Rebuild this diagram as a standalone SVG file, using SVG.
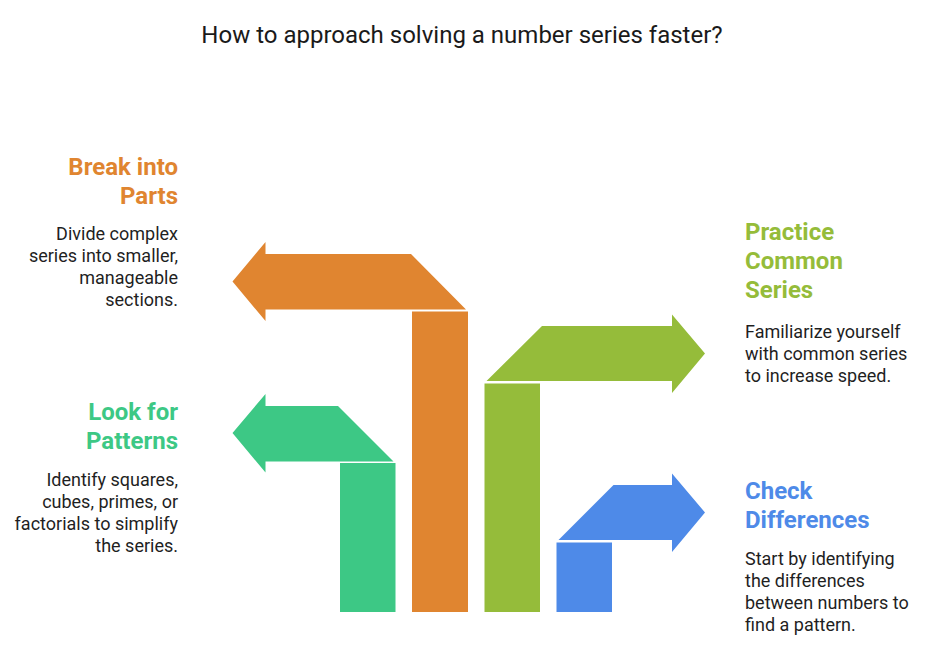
<svg xmlns="http://www.w3.org/2000/svg" width="928" height="658" viewBox="0 0 928 658">
<style>
text{font-family:Roboto,"Liberation Sans",sans-serif}
.title{font-size:24px;fill:#1a1a1a}
.h{font-size:24px;font-weight:700}
.b{font-size:18px;fill:#1f1f1f}
.e{text-anchor:end}
.orange{fill:#e08530}.green{fill:#3dc885}.lime{fill:#95bc3a}.blue{fill:#4e8ae8}
</style>
<rect width="928" height="658" fill="#fff"/>
<text class="title" x="462" y="43" text-anchor="middle">How to approach solving a number series faster?</text>
<g id="break-into-parts">
<polygon class="orange" points="232.5,281.5 265.5,242 265.5,254 411,254 466,309.5 265.5,309.5 265.5,321"/>
<rect class="orange" x="412" y="311.5" width="56" height="300.5"/>
<text class="h orange e" x="178" y="174.5">Break into</text>
<text class="h orange e" x="178" y="203.5">Parts</text>
<text class="b e" x="178" y="240">Divide complex</text>
<text class="b e" x="178" y="262">series into smaller,</text>
<text class="b e" x="178" y="284">manageable</text>
<text class="b e" x="178" y="306">sections.</text>
</g>
<g id="look-for-patterns">
<polygon class="green" points="232.5,433 265.5,394 265.5,406 338,406 393.5,461.5 265.5,461.5 265.5,472.5"/>
<rect class="green" x="340" y="463" width="55.5" height="149"/>
<text class="h green e" x="178" y="420">Look for</text>
<text class="h green e" x="178" y="449">Patterns</text>
<text class="b e" x="178" y="486">Identify squares,</text>
<text class="b e" x="178" y="508">cubes, primes, or</text>
<text class="b e" x="178" y="530">factorials to simplify</text>
<text class="b e" x="178" y="552">the series.</text>
</g>
<g id="practice-common-series">
<polygon class="lime" points="486.5,381 542,326 672,326 672,314.5 705,353.5 672,393 672,381"/>
<rect class="lime" x="484.5" y="383.5" width="55.5" height="228.5"/>
<text class="h lime" x="745" y="239.5">Practice</text>
<text class="h lime" x="745" y="268.5">Common</text>
<text class="h lime" x="745" y="297.5">Series</text>
<text class="b" x="745" y="338">Familiarize yourself</text>
<text class="b" x="745" y="360">with common series</text>
<text class="b" x="745" y="382">to increase speed.</text>
</g>
<g id="check-differences">
<polygon class="blue" points="558.5,540 613.5,485 672,485 672,473.5 705,512.5 672,552 672,540"/>
<rect class="blue" x="556.5" y="542.5" width="55.5" height="69.5"/>
<text class="h blue" x="745" y="499">Check</text>
<text class="h blue" x="745" y="528">Differences</text>
<text class="b" x="745" y="565">Start by identifying</text>
<text class="b" x="745" y="587">the differences</text>
<text class="b" x="745" y="609">between numbers to</text>
<text class="b" x="745" y="631">find a pattern.</text>
</g>
<g id="connectors"></g>
</svg>
